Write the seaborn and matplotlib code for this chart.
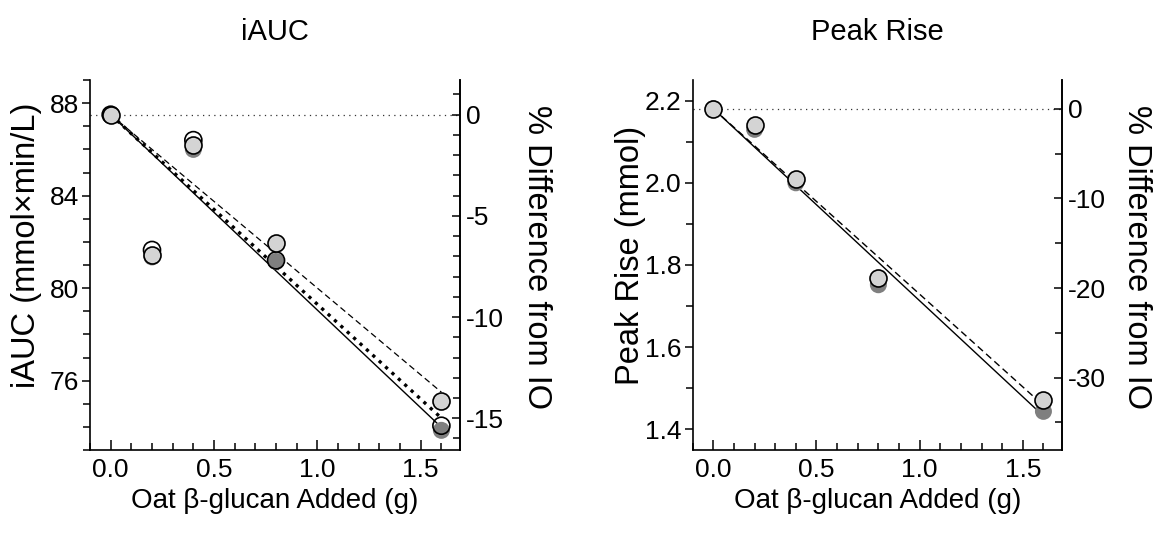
import numpy as np
import pandas as pd
import matplotlib
matplotlib.use("Agg")
import matplotlib.pyplot as plt
import seaborn as sns
from matplotlib.ticker import MultipleLocator, FixedLocator, FormatStrFormatter

sns.set_theme(style="ticks")
plt.rcParams['font.family'] = ['Liberation Sans', 'DejaVu Sans']
plt.rcParams['axes.unicode_minus'] = False
for k in ["text.color", "axes.labelcolor", "xtick.color", "ytick.color", "axes.edgecolor"]:
    plt.rcParams[k] = "black"

# ---------------- data ----------------
dose = [0.0, 0.2, 0.4, 0.8, 1.6]

iauc_light = [87.5, 81.45, 86.2, 81.95, 75.1]
iauc_open = [87.5, 81.65, 86.4, 81.2, 74.05]
iauc_dark = [87.5, 81.35, 86.0, 81.15, 73.85]
iauc_ref = 87.5
iauc_slope_light = -7.5    # dashed fit
iauc_slope_open = -8.45    # solid fit
iauc_slope_dark = -8.2     # thick dotted fit

peak_light = [2.18, 2.14, 2.01, 1.768, 1.471]
peak_dark = [2.18, 2.13, 2.00, 1.752, 1.444]
peak_ref = 2.18
peak_slope_light = -0.451  # dashed fit
peak_slope_dark = -0.467   # solid fit

fit_x = [0.0, 1.6]

LIGHT = "#d4d4d4"
DARK = "#7f7f7f"
TICK_FS = 19
XL_FS = 20
YL_FS = 23.5
TITLE_FS = 21

fig = plt.figure(figsize=(11.66, 5.38), dpi=100)
axL = fig.add_axes([90/1166, 1-450/538, 370/1166, 370/538])
axR = fig.add_axes([692.7/1166, 1-450/538, 369.3/1166, 370/538])


def fit_df(ref, slope):
    return pd.DataFrame({"x": fit_x, "y": [ref + slope * v for v in fit_x]})


def place_label(axis, x, y):
    axis.set_label_coords(x, y)
    axis.label.set_verticalalignment("center")
    axis.label.set_horizontalalignment("center")


def draw_panel(ax, ref, series, fits, ylim, ymaj, ymin, yfmt, pmaj, pmin, title, ylabel,
               lpos, rpos):
    ax.axhline(ref, color="#333333", lw=0.9, ls=(0, (1, 3.5)), zorder=1)
    for slope, ls, lw in fits:
        sns.lineplot(data=fit_df(ref, slope), x="x", y="y", ax=ax, color="black",
                     lw=lw, linestyle=ls, zorder=2, legend=False)
    for vals, fc, ec, z in series:
        df = pd.DataFrame({"x": dose, "y": vals})
        sns.scatterplot(data=df, x="x", y="y", ax=ax, s=150, facecolor=fc,
                        edgecolor=ec, linewidth=1.2, zorder=z, legend=False)
    ax.set_xlim(-0.1, 1.69)
    ax.set_ylim(*ylim)
    ax.xaxis.set_major_locator(FixedLocator([0.0, 0.5, 1.0, 1.5]))
    ax.xaxis.set_minor_locator(MultipleLocator(0.1))
    ax.xaxis.set_major_formatter(FormatStrFormatter("%.1f"))
    ax.yaxis.set_major_locator(MultipleLocator(ymaj))
    ax.yaxis.set_minor_locator(MultipleLocator(ymin))
    ax.yaxis.set_major_formatter(FormatStrFormatter(yfmt))
    for s in ["left", "bottom", "right"]:
        ax.spines[s].set_linewidth(1.2)
        ax.spines[s].set_color("black")
    ax.spines["top"].set_visible(False)
    ax.tick_params(axis="y", which="major", direction="out", length=6, width=1.1,
                   labelsize=TICK_FS, pad=2)
    ax.tick_params(axis="y", which="minor", direction="out", length=5, width=1.1)
    ax.tick_params(axis="x", which="major", direction="in", length=7.5, width=1.1,
                   labelsize=TICK_FS, pad=6)
    ax.tick_params(axis="x", which="minor", direction="in", length=5, width=1.1)
    ax.set_xlabel("Oat β-glucan Added (g)", fontsize=XL_FS, labelpad=4)
    ax.set_ylabel(ylabel, fontsize=YL_FS)
    place_label(ax.yaxis, *lpos)
    ax.set_title(title, fontsize=TITLE_FS, pad=29)

    ax2 = ax.twinx()
    ax2.set_ylim((ylim[0] / ref - 1) * 100, (ylim[1] / ref - 1) * 100)
    ax2.yaxis.set_major_locator(MultipleLocator(pmaj))
    ax2.yaxis.set_minor_locator(MultipleLocator(pmin))
    ax2.yaxis.set_major_formatter(FormatStrFormatter("%d"))
    for s in ["left", "bottom", "top"]:
        ax2.spines[s].set_visible(False)
    ax2.spines["right"].set_linewidth(1.2)
    ax2.spines["right"].set_color("black")
    ax2.tick_params(axis="y", which="major", direction="in", length=6, width=1.1,
                    labelsize=TICK_FS, pad=4)
    ax2.tick_params(axis="y", which="minor", direction="in", length=5, width=1.1)
    ax2.set_ylabel("% Difference from IO", fontsize=YL_FS, rotation=270)
    place_label(ax2.yaxis, *rpos)
    return ax2


draw_panel(axL, iauc_ref,
           [(iauc_dark, DARK, "none", 3), (iauc_open, "none", "black", 4),
            (iauc_light, LIGHT, "black", 5)],
           [(iauc_slope_open, "-", 1.0), (iauc_slope_dark, (0, (1, 1.6)), 2.4),
            (iauc_slope_light, (0, (5, 3)), 0.9)],
           (73, 89), 4, 1, "%d", 5, 1, "iAUC", "iAUC (mmol×min/L)",
           (-0.172, 0.553), (1.208, 0.522))

draw_panel(axR, peak_ref,
           [(peak_dark, DARK, "none", 3), (peak_light, LIGHT, "black", 5)],
           [(peak_slope_dark, "-", 1.0), (peak_slope_light, (0, (5, 3)), 1.0)],
           (1.35, 2.25), 0.2, 0.1, "%.1f", 10, 5, "Peak Rise", "Peak Rise (mmol)",
           (-0.168, 0.527), (1.203, 0.522))

fig.savefig("out.png", dpi=100)
